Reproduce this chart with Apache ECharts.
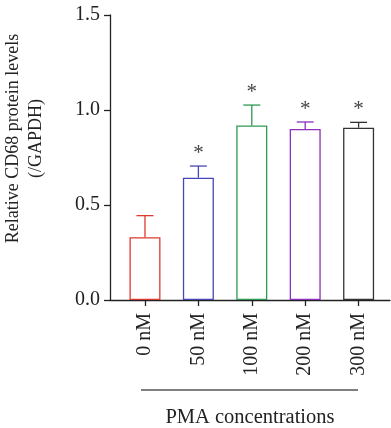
<!DOCTYPE html>
<html>
<head>
<meta charset="utf-8">
<script src="https://cdn.jsdelivr.net/npm/echarts@6/dist/echarts.min.js"></script>
<style>
html,body{margin:0;padding:0;background:#fff;}
#chart{width:391px;height:428px;}
</style>
</head>
<body>
<div id="chart"></div>
<script>
var categories = ['0 nM', '50 nM', '100 nM', '200 nM', '300 nM'];
var means = [0.33, 0.644, 0.919, 0.90, 0.907];
var errors = [0.114, 0.061, 0.107, 0.037, 0.028];
var significant = [false, true, true, true, true];
var colors = ['#de3a32', '#4646b4', '#2e9a52', '#8b30c0', '#333333'];
var yTicks = [0, 0.5, 1.0, 1.5];

var FONT = '"Liberation Serif", "DejaVu Serif", serif';
var chart = echarts.init(document.getElementById('chart'), null, {renderer: 'canvas'});

var barData = means.map(function (v, i) {
  return {value: [i, v], itemStyle: {color: '#ffffff', borderColor: colors[i], borderWidth: 1.3}};
});
var errData = means.map(function (v, i) { return [i, v, errors[i], significant[i] ? 1 : 0]; });

var option = {
  animation: false,
  backgroundColor: '#ffffff',
  grid: {left: 110, right: 1, top: 15, bottom: 128, containLabel: false, outerBoundsMode: 'none'},
  xAxis: {
    type: 'value',
    min: -0.655,
    max: 4.588,
    splitLine: {show: false},
    axisLine: {onZero: false, lineStyle: {color: '#222', width: 1.3}},
    axisTick: {show: true, length: 6, customValues: [0, 1, 2, 3, 4], lineStyle: {color: '#222', width: 1.3}},
    axisLabel: {
      customValues: [0, 1, 2, 3, 4],
      rotate: 90,
      margin: 13,
      fontFamily: FONT,
      fontSize: 20,
      color: '#222',
      formatter: function (v) { return categories[Math.round(v)]; }
    },
    name: 'PMA concentrations',
    nameLocation: 'middle',
    nameGap: 107,
    nameTextStyle: {fontFamily: FONT, fontSize: 20.5, color: '#222', verticalAlign: 'top'}
  },
  yAxis: {
    type: 'value',
    min: 0,
    max: 1.5,
    interval: 0.5,
    splitLine: {show: false},
    axisLine: {show: true, onZero: false, lineStyle: {color: '#222', width: 1.3}},
    axisTick: {show: true, length: 6, lineStyle: {color: '#222', width: 1.3}},
    axisLabel: {
      margin: 10,
      fontFamily: FONT,
      fontSize: 20,
      color: '#222',
      formatter: function (v) { return v.toFixed(1); }
    }
  },
  series: [
    {
      type: 'bar',
      barWidth: 31,
      data: barData,
      z: 2
    },
    {
      type: 'custom',
      data: errData,
      z: 3,
      renderItem: function (params, api) {
        var i = params.dataIndex;
        var x = api.value(0), m = api.value(1), e = api.value(2), s = api.value(3);
        var p0 = api.coord([x, m]);
        var p1 = api.coord([x, m + e]);
        var capHalf = 8.5;
        var col = colors[i];
        var children = [
          {type: 'line', shape: {x1: p0[0], y1: p0[1], x2: p1[0], y2: p1[1]}, style: {stroke: col, lineWidth: 1.3}},
          {type: 'line', shape: {x1: p1[0] - capHalf, y1: p1[1], x2: p1[0] + capHalf, y2: p1[1]}, style: {stroke: col, lineWidth: 1.3}}
        ];
        if (s) {
          children.push({
            type: 'text',
            style: {
              text: '*', x: p1[0], y: p1[1] - 2,
              align: 'center', verticalAlign: 'bottom',
              font: '21px ' + FONT, fill: '#444'
            }
          });
        }
        return {type: 'group', children: children};
      }
    }
  ],
  graphic: [
    {
      type: 'text',
      x: 25, y: 138.5,
      rotation: Math.PI / 2,
      style: {
        text: 'Relative CD68 protein levels\n(/GAPDH)',
        align: 'center', verticalAlign: 'middle',
        font: '18px ' + FONT, lineHeight: 23, fill: '#222'
      }
    },
    {
      type: 'line',
      shape: {x1: 141, y1: 390, x2: 358, y2: 390},
      style: {stroke: '#555', lineWidth: 1.6}
    }
  ]
};
chart.setOption(option);
</script>
</body>
</html>
